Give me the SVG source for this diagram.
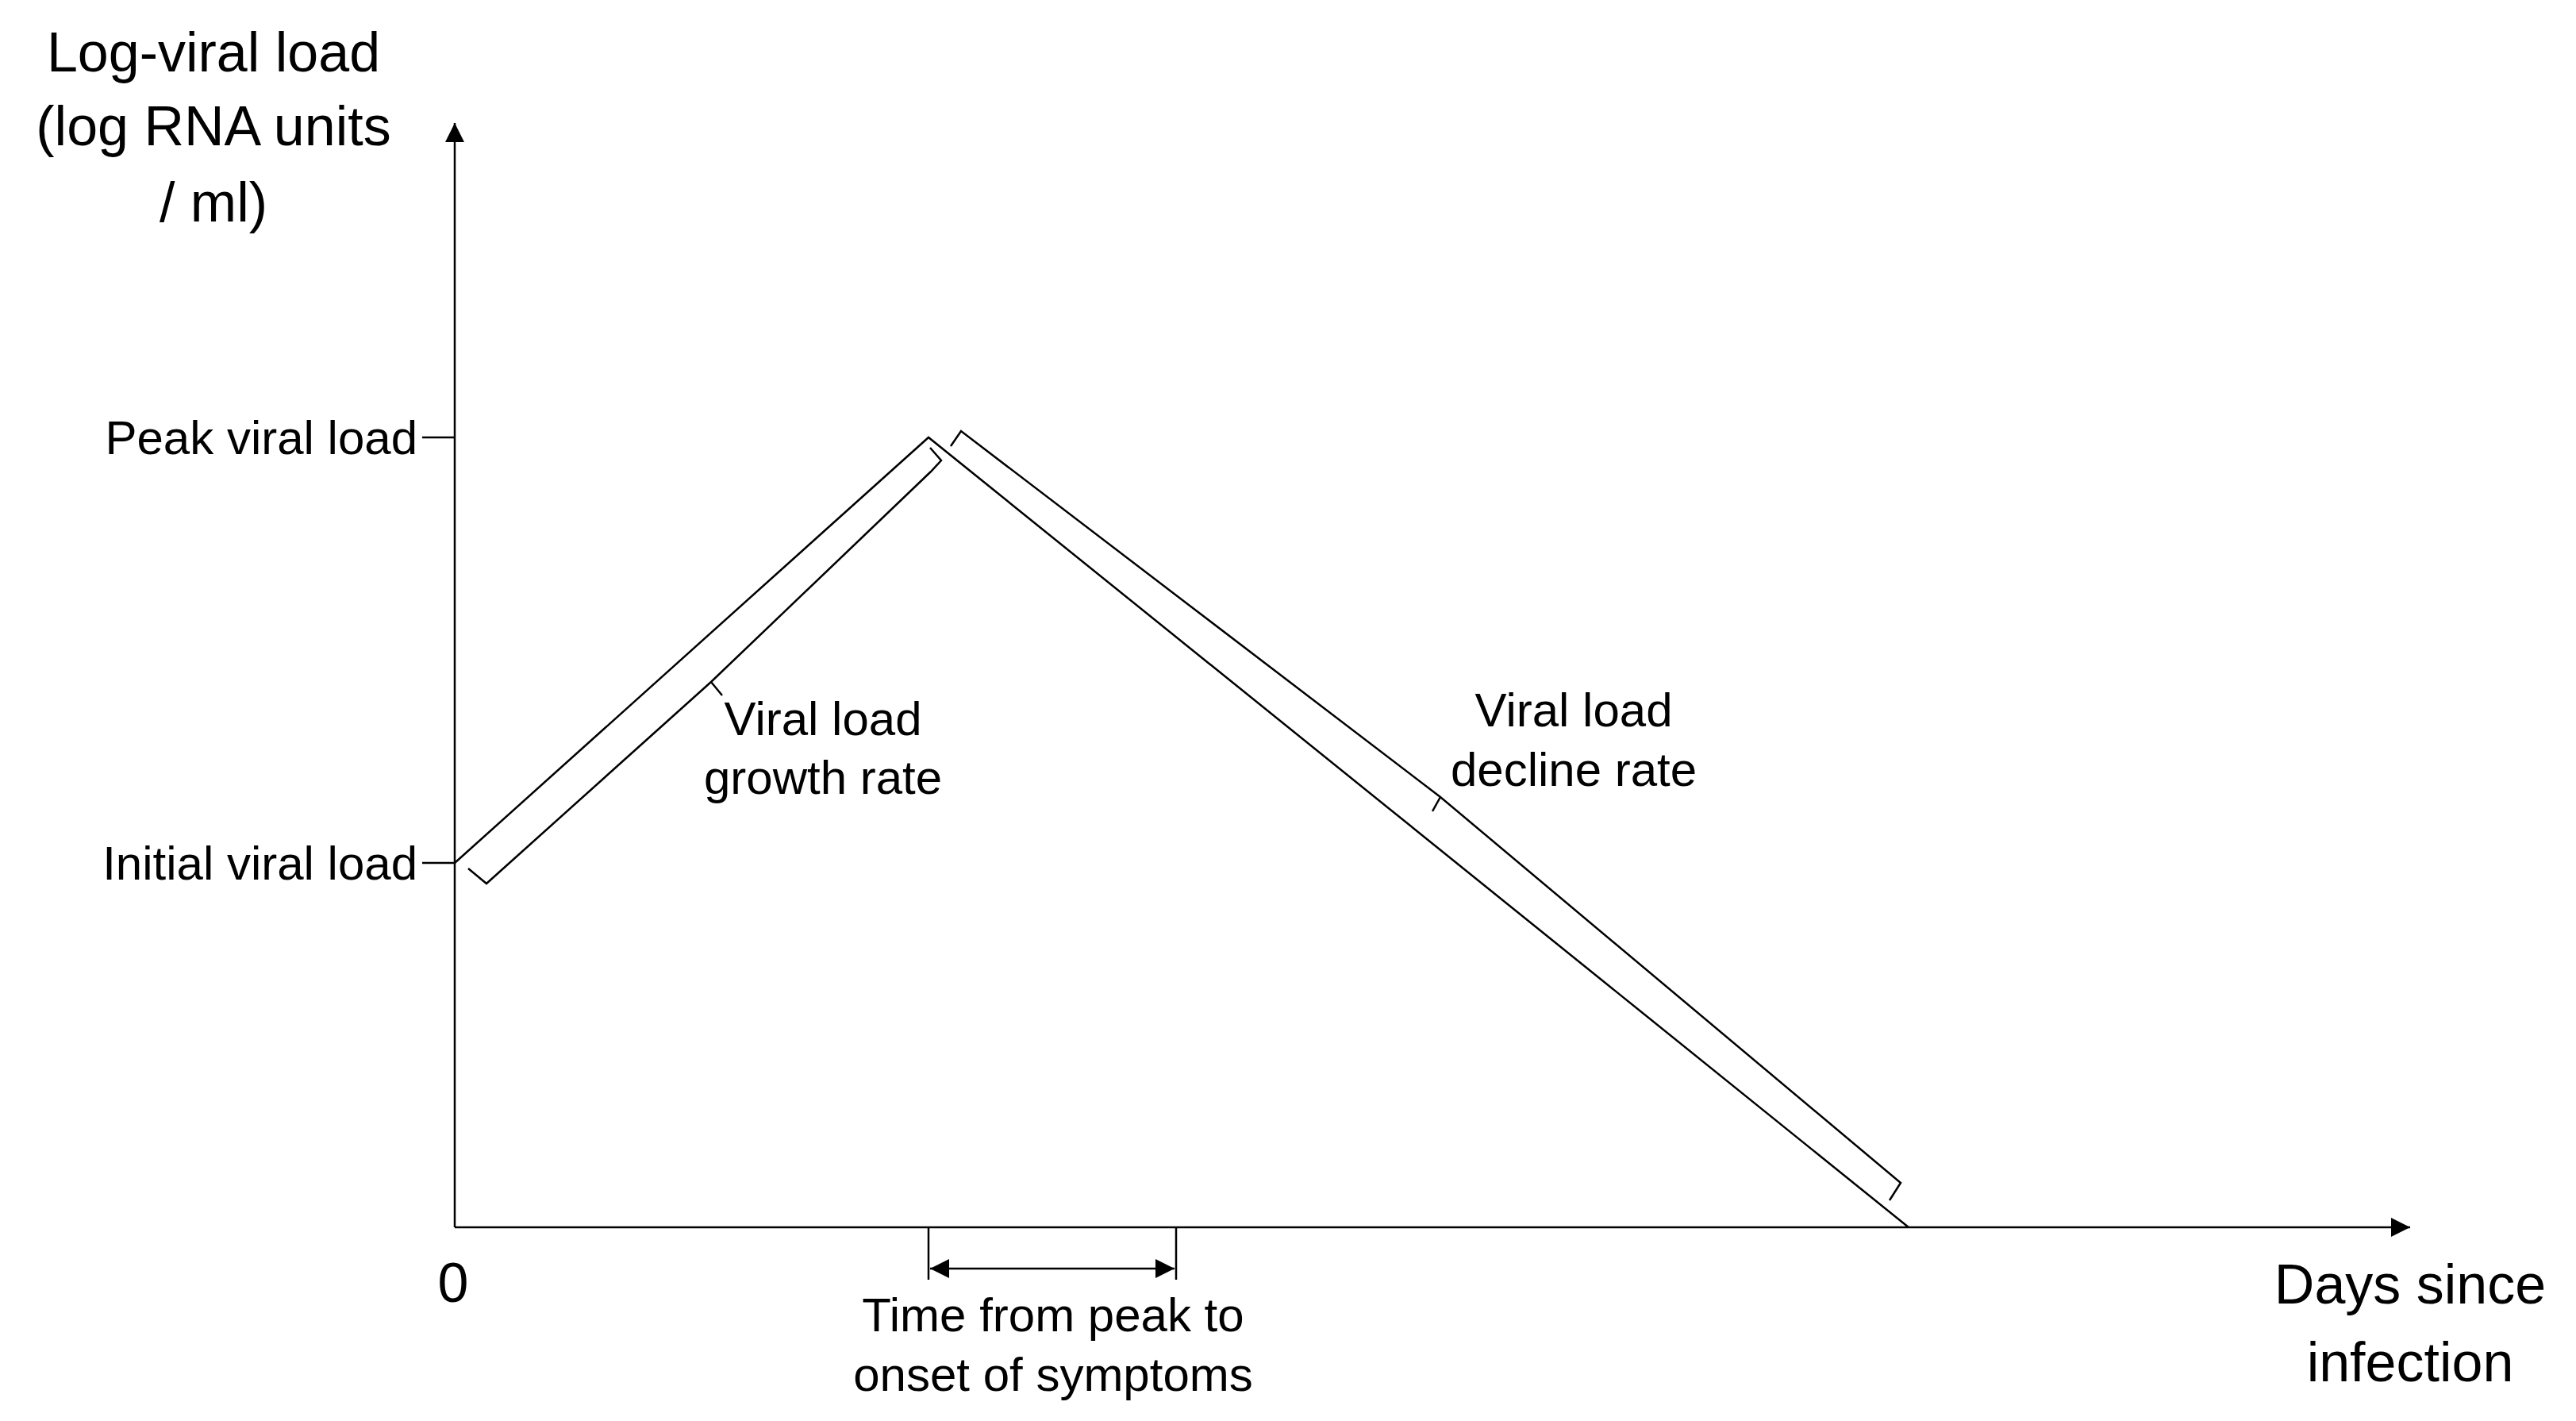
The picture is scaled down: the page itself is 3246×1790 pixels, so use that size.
<svg xmlns="http://www.w3.org/2000/svg" width="3246" height="1790" viewBox="0 0 3246 1790">
<style>
text{font-family:"Liberation Sans",Arial,sans-serif;fill:#000}
.l{stroke:#000;stroke-width:2.5;fill:none}
.big{font-size:70px}
.md{font-size:60px}
</style>
<defs>
<marker id="ah" viewBox="0 0 10 10" refX="10" refY="5" markerWidth="8" markerHeight="8" orient="auto-start-reverse" markerUnits="userSpaceOnUse"><path d="M0,0L10,5L0,10z" fill="#000"/></marker>
<marker id="ah2" viewBox="0 0 10 10" refX="10" refY="5" markerWidth="24" markerHeight="24" orient="auto-start-reverse" markerUnits="userSpaceOnUse"><path d="M0,0L10,5L0,10z" fill="#000"/></marker>
</defs>
<rect width="3246" height="1790" fill="#fff"/>
<g id="connectors">
<line class="l" x1="573" y1="1546" x2="573" y2="155" marker-end="url(#ah2)"/>
<line class="l" x1="573" y1="1546" x2="3037" y2="1546" marker-end="url(#ah2)"/>
<line class="l" x1="532" y1="551" x2="573" y2="551"/>
<line class="l" x1="532" y1="1087" x2="573" y2="1087"/>
<polyline class="l" points="573,1087 1170,551 2405,1546"/>
<polyline class="l" points="590,1094 613,1113 896,859 1173,594 1186,580 1172,564"/>
<polyline class="l" points="896,859 910,876"/>
<polyline class="l" points="1198,562 1211,543 1815,1004 2395,1490 2381,1512"/>
<polyline class="l" points="1815,1004 1805,1022"/>
<line class="l" x1="1170" y1="1546" x2="1170" y2="1612"/>
<line class="l" x1="1482" y1="1546" x2="1482" y2="1612"/>
<line class="l" x1="1172" y1="1598" x2="1480" y2="1598" stroke-width="4" marker-start="url(#ah2)" marker-end="url(#ah2)"/>
</g>
<g id="ylabel"><text class="big" text-anchor="middle" x="269" y="90">Log-viral load</text><text class="big" text-anchor="middle" x="269" y="183">(log RNA units</text><text class="big" text-anchor="middle" x="269" y="279">/ ml)</text></g>
<g id="peak"><text class="md" text-anchor="end" x="526" y="572">Peak viral load</text></g>
<g id="initial"><text class="md" text-anchor="end" x="526" y="1108">Initial viral load</text></g>
<g id="growth"><text class="md" text-anchor="middle" x="1037" y="926">Viral load</text><text class="md" text-anchor="middle" x="1037" y="1000">growth rate</text></g>
<g id="decline"><text class="md" text-anchor="middle" x="1983" y="915">Viral load</text><text class="md" text-anchor="middle" x="1983" y="990">decline rate</text></g>
<g id="zero"><text class="big" text-anchor="middle" x="571" y="1640">0</text></g>
<g id="time"><text class="md" text-anchor="middle" x="1327" y="1677">Time from peak to</text><text class="md" text-anchor="middle" x="1327" y="1752">onset of symptoms</text></g>
<g id="xlabel"><text class="big" text-anchor="middle" x="3037" y="1642">Days since</text><text class="big" text-anchor="middle" x="3037" y="1740">infection</text></g>
</svg>
